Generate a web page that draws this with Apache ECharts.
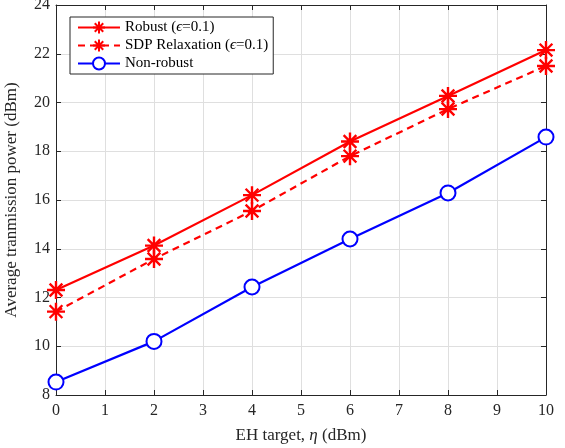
<!DOCTYPE html>
<html>
<head>
<meta charset="utf-8">
<script src="https://cdn.jsdelivr.net/npm/echarts@6/dist/echarts.min.js"></script>
<style>
  html, body { margin: 0; padding: 0; background: #fff; }
  #chart { width: 565px; height: 448px; }
</style>
</head>
<body>
<div id="chart"></div>
<script>
// EH target values (dBm)
const ehTarget = [0, 2, 4, 6, 8, 10];
// Average transmission power (dBm) for each scheme
const robust = [12.31, 14.13, 16.2, 18.4, 20.27, 22.15];
const sdpRelaxation = [11.42, 13.58, 15.55, 17.8, 19.73, 21.5];
const nonRobust = [8.53, 10.2, 12.43, 14.4, 16.29, 18.58];

const seriesNames = ['Robust (ϵ=0.1)', 'SDP Relaxation (ϵ=0.1)', 'Non-robust'];

const FONT = '"Liberation Serif", "DejaVu Serif", serif';
const ASTERISK = 'path://M0,-10L0,10M-10,0L10,0M-7.07,-7.07L7.07,7.07M-7.07,7.07L7.07,-7.07';

const pairs = ys => ehTarget.map((x, i) => [x, ys[i]]);

const baseX = {
  type: 'value', min: 0, max: 10, interval: 1,
  axisLine: { show: true, onZero: false, lineStyle: { color: '#262626', width: 1 } },
  axisTick: { show: true, inside: true, length: 5, lineStyle: { color: '#262626' } },
  splitLine: { show: false },
};
const baseY = {
  type: 'value', min: 8, max: 24, interval: 2,
  axisLine: { show: true, onZero: false, lineStyle: { color: '#262626', width: 1 } },
  axisTick: { show: true, inside: true, length: 5, lineStyle: { color: '#262626' } },
  splitLine: { show: false },
};

const chart = echarts.init(document.getElementById('chart'));
chart.setOption({
  backgroundColor: '#fff',
  animation: false,
  grid: { left: 56, right: 19, top: 5, bottom: 53, containLabel: false, outerBoundsMode: 'none' },
  xAxis: [
    Object.assign({}, baseX, {
      position: 'bottom',
      splitLine: { show: true, lineStyle: { color: '#dfdfdf', width: 1 } },
      axisLabel: { color: '#262626', fontFamily: FONT, fontSize: 16, margin: 8 },
      name: 'EH target, {i|η} (dBm)',
      nameLocation: 'middle', nameGap: 32,
      nameTextStyle: {
        color: '#262626', fontFamily: FONT, fontSize: 17,
        rich: { i: { fontStyle: 'italic', fontFamily: FONT, fontSize: 17, color: '#262626' } }
      }
    }),
    Object.assign({}, baseX, { position: 'top', axisLabel: { show: false } })
  ],
  yAxis: [
    Object.assign({}, baseY, {
      position: 'left',
      splitLine: { show: true, lineStyle: { color: '#dfdfdf', width: 1 } },
      axisLabel: { color: '#262626', fontFamily: FONT, fontSize: 16, margin: 6 },
      name: 'Average tranmission power (dBm)',
      nameLocation: 'middle', nameGap: 36,
      nameTextStyle: { color: '#262626', fontFamily: FONT, fontSize: 17 }
    }),
    Object.assign({}, baseY, { position: 'right', axisLabel: { show: false } })
  ],
  legend: {
    left: 70, top: 17,
    orient: 'vertical',
    itemGap: 3,
    itemWidth: 42, itemHeight: 15,
    padding: [3, 5, 3, 7],
    borderColor: '#262626', borderWidth: 1,
    backgroundColor: '#fff',
    data: seriesNames,
    formatter: name => name.replace('ϵ', '{e|ϵ}'),
    textStyle: {
      color: '#000', fontFamily: FONT, fontSize: 15,
      rich: { e: { fontStyle: 'italic', fontFamily: FONT, fontSize: 15, color: '#000' } }
    }
  },
  series: [
    {
      name: seriesNames[0], type: 'line', data: pairs(robust),
      symbol: ASTERISK, symbolSize: 18,
      lineStyle: { color: '#ff0000', width: 2.2 },
      itemStyle: { color: 'rgba(0,0,0,0)', borderColor: '#ff0000', borderWidth: 2.4 },
      z: 3
    },
    {
      name: seriesNames[1], type: 'line', data: pairs(sdpRelaxation),
      symbol: ASTERISK, symbolSize: 18,
      lineStyle: { color: '#ff0000', width: 2.2, type: [7, 5] },
      itemStyle: { color: 'rgba(0,0,0,0)', borderColor: '#ff0000', borderWidth: 2.4 },
      z: 3
    },
    {
      name: seriesNames[2], type: 'line', data: pairs(nonRobust),
      symbol: 'emptyCircle', symbolSize: 15,
      lineStyle: { color: '#0000ff', width: 2.2 },
      itemStyle: { color: '#0000ff', borderColor: '#0000ff', borderWidth: 2.2 },
      z: 3
    }
  ]
});
</script>
</body>
</html>
